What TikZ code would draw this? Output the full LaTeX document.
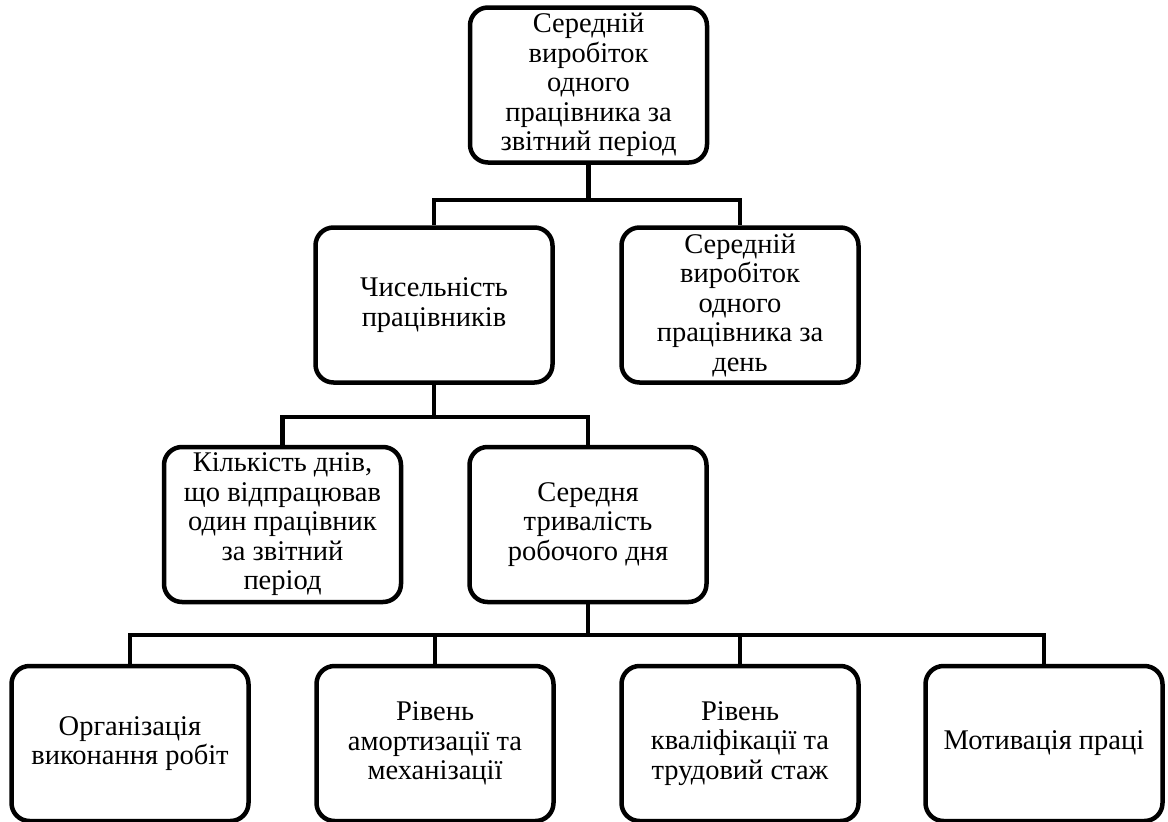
\documentclass[tikz,border=0pt]{standalone}
\usepackage{fontspec}
\setmainfont{Liberation Serif}
\begin{document}
\begin{tikzpicture}[x=1pt,y=-1pt,
  box/.style={draw, line width=4.5pt, rounded corners=18pt, minimum width=237pt, minimum height=155pt, inner sep=0pt, align=center, font=\fontsize{28.5}{29.5}\selectfont},
  conn/.style={line width=4.5pt, line join=miter}]
\useasboundingbox (0,0) rectangle (1168,822);
\node[box] (top) at (588.5,85) {Середній\\виробіток\\одного\\працівника за\\звітний період};
\node[box] (num) at (434,305) {Чисельність\\працівників};
\node[box] (day) at (740,305) {Середній\\виробіток\\одного\\працівника за\\день};
\node[box] (days) at (282.5,524.5) {Кількість днів,\\що відпрацював\\один працівник\\за звітний\\період};
\node[box] (dur) at (588,524.5) {Середня\\тривалість\\робочого дня};
\node[box] (org) at (130,743.5) {Організація\\виконання робіт};
\node[box] (amort) at (435,743.5) {Рівень\\амортизації та\\механізації};
\node[box] (qual) at (740,743.5) {Рівень\\кваліфікації та\\трудовий стаж};
\node[box] (mot) at (1044,743.5) {Мотивація праці};
\coordinate (j1) at (588.5,200);
\coordinate (j2) at (434,417);
\coordinate (j3) at (588,635);
\draw[conn] (top.south) -- (j1);
\draw[conn] (num.north) |- (j1) -| (day.north);
\draw[conn] (num.south) -- (j2);
\draw[conn] (days.north) |- (j2) -| (dur.north);
\draw[conn] (dur.south) -- (j3);
\draw[conn] (org.north) |- (j3) -| (mot.north);
\draw[conn] (amort.north) -- (amort.north |- j3);
\draw[conn] (qual.north) -- (qual.north |- j3);
\end{tikzpicture}
\end{document}
